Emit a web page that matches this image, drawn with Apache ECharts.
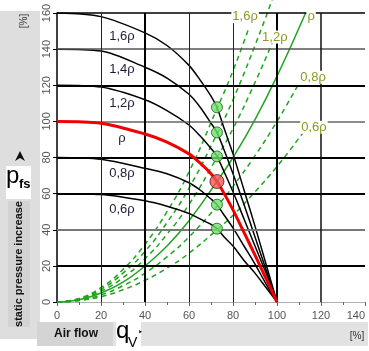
<!DOCTYPE html>
<html>
<head>
<meta charset="utf-8">
<script src="https://cdn.jsdelivr.net/npm/echarts@6.0.0/dist/echarts.min.js"></script>
<style>
  html, body { margin: 0; padding: 0; background: #fff; }
  #chart { width: 369px; height: 351px; }
</style>
</head>
<body>
<div id="chart"></div>
<script>
// fan curves (static pressure vs air flow)
const qFan = [0, 20, 40, 50, 60, 65, 70, 72.7, 76, 80, 85, 90, 95, 100];
const fan16 = [160, 158, 149, 142, 131, 123, 114, 107.8, 96, 82, 62, 42, 21, 0];
const fan14 = [140, 139, 130, 124, 115, 108, 99, 93.9, 84, 71, 54, 36, 18, 0];
const fan12 = [120, 119, 112, 106, 98, 92, 85, 80.6, 72, 61, 46, 31, 16, 0];
const fan10 = [100, 99, 93, 88.5, 82, 77, 71, 66.7, 60, 51, 38.5, 26, 13, 0];
const fan08 = [80, 79, 74, 71, 66, 62, 57, 53.9, 48, 41, 31, 21, 10, 0];
const fan06 = [60, 59.5, 56, 53, 49, 46, 43, 40.6, 36, 31, 23, 16, 8, 0];

// system curves (green)
const qSys16 = [0, 10, 20, 30, 40, 50, 60, 72.7, 80, 87];
const sys16 = [0, 2, 8, 18, 32, 50, 72, 107, 128, 151];
const qSys14 = [0, 10, 20, 30, 40, 50, 60, 72.7, 80, 90, 98];
const sys14 = [0, 1.8, 7, 16, 28, 44, 63, 93, 112, 142, 168];
const qSys12 = [0, 10, 20, 30, 40, 50, 60, 72.7, 80, 90, 98];
const sys12 = [0, 1.5, 6, 13.5, 24, 37.5, 54, 80, 96, 121.5, 144];
const qSys10 = [0, 10, 20, 30, 40, 50, 60, 72.7, 80, 90, 100, 113];
const sys10 = [0, 1.3, 5, 11, 20, 31, 45, 66.7, 80, 101, 125, 160];
const qSys08 = [0, 10, 20, 30, 40, 50, 60, 72.7, 80, 90, 100, 109.5];
const sys08 = [0, 1, 4, 9, 16, 25, 36, 53, 64, 81, 100, 120];
const qSys06 = [0, 10, 20, 30, 40, 50, 60, 72.7, 80, 90, 100, 112];
const sys06 = [0, 0.75, 3, 6.75, 12, 18.75, 27, 40, 48, 61, 75, 94];

// operating points
const dotQ = [72.7, 72.7, 72.7, 72.7, 72.7];
const dotP = [107.8, 93.9, 80.6, 53.9, 40.6];
const redQ = [72.7];
const redP = [66.7];

const xTicks = [0, 20, 40, 60, 80, 100, 120, 140];
const yTicks = [0, 20, 40, 60, 80, 100, 120, 140, 160];

const zip = (xs, ys) => xs.map((x, i) => [x, ys[i]]);

const GREEN = "#1ea51e";
const GREEN_TXT = "#8c9a1e";
const DARK_TXT = "#1c1c3a";

function fanSeries(name, q, p, lbl, color, width, z) {
  return {
    name: name,
    type: "line",
    data: zip(q, p),
    smooth: 0.3,
    showSymbol: false,
    z: z,
    lineStyle: { color: color, width: width },
    markPoint: {
      symbol: "circle",
      symbolSize: 0,
      silent: true,
      data: [{ coord: lbl }],
      label: {
        show: true,
        position: "inside",
        formatter: name,
        color: DARK_TXT,
        fontSize: 13,
        fontFamily: "Liberation Sans",
      },
    },
  };
}

function sysSeries(name, q, p, lbl, dashed) {
  return {
    name: name,
    type: "line",
    data: zip(q, p),
    smooth: true,
    showSymbol: false,
    clip: false,
    z: 3,
    lineStyle: { color: GREEN, width: 1.5, type: dashed ? [5, 4] : "solid" },
    markPoint: {
      symbol: "circle",
      symbolSize: 0,
      silent: true,
      data: [{ coord: lbl }],
      label: {
        show: true,
        position: "inside",
        formatter: name,
        color: GREEN_TXT,
        fontSize: 13,
        fontFamily: "Liberation Sans",
        backgroundColor: "#fff",
        padding: [0, 1],
      },
    },
  };
}

// grid lines with different weights
const hLine = (v, c, w) => ({ yAxis: v, lineStyle: { color: c, width: w, type: "solid" } });
const vLine = (v, c, w) => ({ xAxis: v, lineStyle: { color: c, width: w, type: "solid" } });

const chart = echarts.init(document.getElementById("chart"));
const option = {
  animation: false,
  backgroundColor: "#fff",
  grid: { left: 57, top: 13, right: 4, bottom: 49 },
  xAxis: {
    type: "value",
    min: xTicks[0],
    max: xTicks[xTicks.length - 1],
    interval: 20,
    axisLine: { lineStyle: { color: "#b0b0b0", width: 1 } },
    axisTick: { length: 4, lineStyle: { color: "#666" } },
    minorTick: { show: true, splitNumber: 2, length: 3, lineStyle: { color: "#666" } },
    axisLabel: { color: "#555", fontSize: 11, margin: 8, fontFamily: "Liberation Sans", alignMaxLabel: "right" },
    splitLine: { show: false },
  },
  yAxis: {
    type: "value",
    min: yTicks[0],
    max: yTicks[yTicks.length - 1],
    interval: 20,
    axisLine: { show: true, lineStyle: { color: "#000", width: 1.5 } },
    axisTick: { show: true, length: 4, lineStyle: { color: "#000" } },
    axisLabel: { rotate: 90, color: "#555", fontSize: 11, margin: 5, fontFamily: "Liberation Sans" },
    splitLine: { show: false },
  },
  graphic: [
    { type: "rect", z: 0, shape: { x: 0, y: 11, width: 40, height: 328 }, style: { fill: "#dedede" } },
    { type: "rect", z: 1, shape: { x: 8, y: 201, width: 22, height: 126 }, style: { fill: "#d3d3d3" } },
    {
      type: "text", z: 2, x: 19, y: 264, rotation: Math.PI / 2,
      style: { text: "static pressure increase", font: "bold 11px 'Liberation Sans'", fill: "#111", align: "center", verticalAlign: "middle" },
    },
    {
      type: "text", z: 2, x: 24, y: 21, rotation: Math.PI / 2,
      style: { text: "[%]", font: "10px 'Liberation Sans'", fill: "#333", align: "center", verticalAlign: "middle" },
    },
    { type: "polygon", z: 2, shape: { points: [[20, 151], [25, 161], [20, 158], [15, 161]] }, style: { fill: "#111" } },
    { type: "rect", z: 1, shape: { x: 6, y: 166, width: 25, height: 33 }, style: { fill: "#fff" } },
    { type: "text", z: 2, x: 6, y: 176, style: { text: "p", font: "24px 'Liberation Sans'", fill: "#000", verticalAlign: "middle" } },
    { type: "text", z: 2, x: 19, y: 184, style: { text: "fs", font: "bold 13px 'Liberation Sans'", fill: "#000", verticalAlign: "middle" } },
    // bottom band
    { type: "rect", z: 0, shape: { x: 37, y: 322, width: 331, height: 24 }, style: { fill: "#e2e2e2" } },
    { type: "rect", z: 1, shape: { x: 37, y: 322, width: 76, height: 24 }, style: { fill: "#d4d4d4" } },
    {
      type: "text", z: 2, x: 76, y: 334,
      style: { text: "Air flow", font: "bold 12px 'Liberation Sans'", fill: "#111", align: "center", verticalAlign: "middle" },
    },
    { type: "rect", z: 1, shape: { x: 116, y: 322, width: 25, height: 29 }, style: { fill: "#fff" } },
    { type: "text", z: 2, x: 116, y: 331, style: { text: "q", font: "24px 'Liberation Sans'", fill: "#000", verticalAlign: "middle" } },
    { type: "text", z: 2, x: 128, y: 343, style: { text: "V", font: "14px 'Liberation Sans'", fill: "#000", verticalAlign: "middle" } },
    { type: "text", z: 2, x: 138, y: 333, style: { text: "‣", font: "8px 'DejaVu Sans'", fill: "#000", verticalAlign: "middle" } },
    {
      type: "text", z: 2, x: 357, y: 336,
      style: { text: "[%]", font: "10px 'Liberation Sans'", fill: "#333", align: "center", verticalAlign: "middle" },
    },
  ],
  series: [
    {
      name: "grid",
      type: "line",
      data: [[0, 0]],
      showSymbol: false,
      lineStyle: { opacity: 0 },
      z: 1,
      markLine: {
        silent: true,
        symbol: ["none", "none"],
        label: { show: false },
        data: [
          hLine(20, "#000", 2),
          hLine(40, "#777", 2),
          hLine(60, "#000", 2),
          hLine(80, "#000", 2),
          hLine(100, "#666", 1.5),
          hLine(120, "#000", 2),
          hLine(140, "#555", 1.5),
          hLine(160, "#000", 1.5),
          vLine(20, "#222", 1),
          vLine(40, "#000", 2),
          vLine(60, "#222", 1),
          vLine(80, "#222", 1),
          vLine(100, "#000", 2),
          vLine(120, "#111", 1.5),
        ],
      },
    },
    sysSeries("1,6ρ", qSys16, sys16, [85.5, 158], true),
    sysSeries("1,4ρ", qSys14, sys14, [96.8, 168], true),
    sysSeries("1,2ρ", qSys12, sys12, [99, 146.7], true),
    sysSeries("ρ", qSys10, sys10, [115.5, 158], false),
    sysSeries("0,8ρ", qSys08, sys08, [116.4, 124.4], true),
    sysSeries("0,6ρ", qSys06, sys06, [116.8, 96.7], true),
    fanSeries("1,6ρ", qFan, fan16, [29.5, 147.2], "#000", 1.5, 4),
    fanSeries("1,4ρ", qFan, fan14, [29.5, 128.9], "#000", 1.5, 4),
    fanSeries("1,2ρ", qFan, fan12, [29.5, 110], "#000", 1.5, 4),
    fanSeries("0,8ρ", qFan, fan08, [29.5, 71.1], "#000", 1.5, 4),
    fanSeries("0,6ρ", qFan, fan06, [29.5, 51.1], "#000", 1.5, 4),
    fanSeries("ρ", qFan, fan10, [29.5, 90.6], "#f00000", 3, 5),
    {
      name: "points",
      type: "scatter",
      data: zip(dotQ, dotP),
      symbolSize: 11,
      z: 6,
      itemStyle: { color: "#6ee06a", borderColor: "#1d5a1d", borderWidth: 1 },
    },
    {
      name: "operating point",
      type: "scatter",
      data: zip(redQ, redP),
      symbolSize: 14,
      z: 7,
      itemStyle: { color: "#f05858", borderColor: "#5a1212", borderWidth: 1 },
    },
  ],
};
chart.setOption(option);
</script>
</body>
</html>
